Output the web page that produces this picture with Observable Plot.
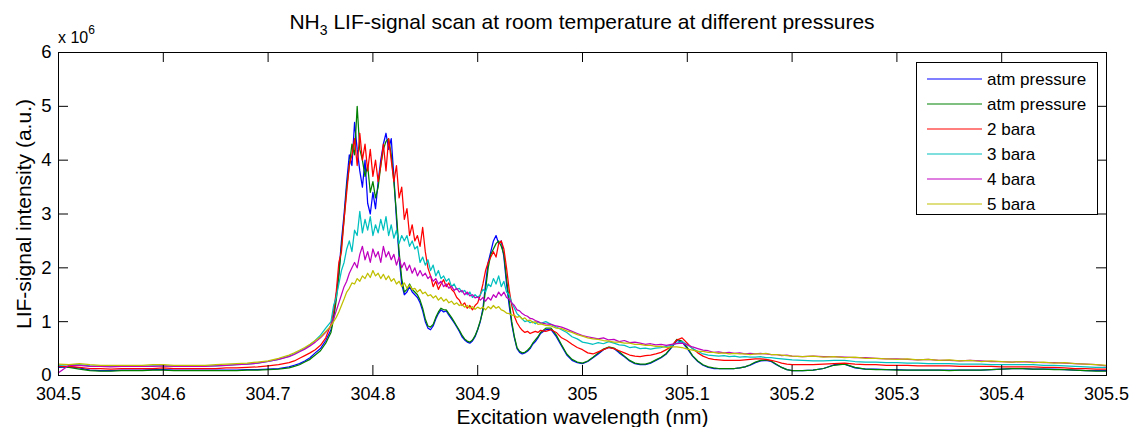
<!DOCTYPE html>
<html><head><meta charset="utf-8">
<script src="https://cdn.jsdelivr.net/npm/d3@7"></script>
<script src="https://cdn.jsdelivr.net/npm/@observablehq/plot@0.6"></script>
<style>
body{margin:0;background:#fff;}
#chart svg{font-family:"Liberation Sans",Arial,sans-serif;}
</style></head><body><div id="chart"></div>
<script>
// ---- sampling grid (nm): coarse on the baseline, fine across the band ----
const wlSegA = d3.range(23).map(i => 304.50 + i * 0.01);    // 304.50 .. 304.72
const wlSegB = d3.range(7).map(i => 304.725 + i * 0.005);   // 304.725 .. 304.755
const wlSegC = d3.range(81).map(i => 304.76 + i * 0.0025);  // 304.76 .. 304.96
const wlSegD = d3.range(48).map(i => 304.965 + i * 0.005);  // 304.965 .. 305.20
const wlSegE = d3.range(30).map(i => 305.21 + i * 0.01);    // 305.21 .. 305.50
const wavelength = [...wlSegA, ...wlSegB, ...wlSegC, ...wlSegD, ...wlSegE];

// ---- series values (x 10^6, a.u.) ----
const atm1 = [
0.15,0.16,0.14,0.10,0.09,0.09,0.10,0.10,0.10,0.11,0.11,0.10,0.10,0.10,0.10,0.10,0.10,0.10,0.11,0.11,0.12,0.13,0.16,
0.19,0.22,0.27,0.33,0.42,0.50,0.65,
0.85,1.1,1.5,1.9,2.5,3.0,3.6,4.1,3.9,4.7,
4.2,3.8,3.5,4.0,3.2,3.0,3.4,3.1,3.6,4.0,
4.3,4.5,4.2,4.4,3.7,2.9,2.2,1.7,1.5,1.55,
1.65,1.55,1.5,1.45,1.35,1.2,1.0,0.88,0.85,0.92,
1.05,1.15,1.22,1.18,1.2,1.12,1.05,0.98,0.9,0.82,
0.72,0.66,0.62,0.6,0.64,0.72,0.85,1.0,1.25,1.7,
2.1,2.3,2.5,2.6,2.45,2.5,2.2,1.7,1.3,0.95,
0.7,0.5,0.43,0.4,0.42,0.45,0.5,0.58,0.63,0.7,
0.78,
0.85,0.85,0.72,0.55,0.38,0.28,0.24,0.22,0.26,0.33,0.40,0.48,0.52,0.50,0.42,0.35,0.27,0.22,0.20,0.20,
0.23,0.28,0.33,0.40,0.52,0.65,0.62,0.50,0.36,0.26,0.19,0.15,0.13,0.13,0.13,0.13,0.13,0.14,0.16,0.19,
0.24,0.27,0.28,0.26,0.20,0.15,0.11,0.09,
0.09,0.10,0.13,0.20,0.21,0.14,0.12,0.12,0.11,0.11,0.10,0.10,0.10,0.10,0.10,0.10,0.10,0.10,0.11,0.12,
0.13,0.13,0.12,0.12,0.12,0.11,0.10,0.09,0.09,0.09];

const atm2 = [
0.17,0.15,0.12,0.09,0.08,0.08,0.09,0.09,0.09,0.10,0.10,0.09,0.09,0.09,0.09,0.09,0.09,0.09,0.10,0.10,0.11,0.12,0.14,
0.17,0.20,0.25,0.30,0.38,0.46,0.60,
0.8,1.05,1.4,1.85,2.4,2.9,3.5,3.9,4.3,4.1,
5.0,4.2,4.0,3.7,3.9,3.4,3.6,3.3,3.5,3.9,
4.2,4.35,4.4,4.1,3.6,3.0,2.3,1.8,1.55,1.6,
1.7,1.6,1.55,1.5,1.4,1.25,1.05,0.92,0.9,0.95,
1.08,1.18,1.25,1.22,1.22,1.15,1.08,1.0,0.92,0.84,
0.75,0.68,0.64,0.62,0.66,0.74,0.86,1.02,1.2,1.6,
2.0,2.25,2.35,2.45,2.5,2.4,2.25,1.8,1.4,1.0,
0.72,0.52,0.45,0.42,0.43,0.47,0.52,0.6,0.66,0.72,
0.8,
0.88,0.88,0.75,0.57,0.40,0.30,0.25,0.23,0.27,0.34,0.42,0.49,0.53,0.51,0.44,0.36,0.28,0.23,0.21,0.21,
0.24,0.29,0.34,0.41,0.53,0.67,0.64,0.52,0.37,0.27,0.20,0.16,0.14,0.13,0.13,0.13,0.13,0.14,0.16,0.20,
0.25,0.28,0.29,0.27,0.21,0.15,0.11,0.09,
0.09,0.10,0.13,0.19,0.21,0.15,0.12,0.11,0.11,0.10,0.10,0.10,0.10,0.10,0.09,0.10,0.10,0.10,0.11,0.12,
0.13,0.13,0.12,0.12,0.11,0.11,0.10,0.09,0.08,0.08];

const bar2 = [
0.17,0.17,0.15,0.13,0.13,0.12,0.13,0.13,0.13,0.13,0.14,0.13,0.13,0.13,0.13,0.13,0.14,0.14,0.15,0.16,0.18,0.20,0.24,
0.27,0.32,0.37,0.42,0.48,0.56,0.70,
0.95,1.2,1.55,2.1,2.3,2.9,3.4,3.9,4.1,4.4,
3.9,4.5,4.0,4.3,3.8,4.2,3.7,4.0,3.6,3.9,
4.3,3.8,4.4,4.0,3.6,3.9,3.3,3.5,2.9,3.1,
2.6,2.8,2.5,2.6,2.4,2.75,2.3,2.0,1.85,1.65,
1.75,1.6,1.7,1.78,1.65,1.72,1.6,1.55,1.45,1.4,
1.3,1.35,1.25,1.3,1.22,1.3,1.35,1.5,1.7,1.95,
2.1,2.2,2.3,2.2,2.45,2.5,2.35,2.0,1.6,1.3,
1.1,0.98,0.9,0.84,0.8,0.82,0.78,0.8,0.82,0.8,
0.84,
0.82,0.85,0.80,0.70,0.65,0.58,0.52,0.48,0.42,0.40,0.44,0.48,0.52,0.50,0.46,0.42,0.38,0.36,0.35,0.37,
0.38,0.40,0.43,0.48,0.55,0.66,0.70,0.60,0.50,0.42,0.36,0.32,0.30,0.29,0.28,0.28,0.28,0.28,0.29,0.30,
0.31,0.31,0.30,0.28,0.26,0.23,0.21,0.20,
0.20,0.20,0.21,0.22,0.23,0.21,0.20,0.20,0.19,0.19,0.19,0.18,0.18,0.18,0.18,0.17,0.17,0.17,0.17,0.16,
0.16,0.16,0.16,0.15,0.15,0.14,0.13,0.13,0.12,0.12];

const bar3 = [
0.19,0.20,0.20,0.18,0.17,0.17,0.17,0.17,0.17,0.18,0.18,0.17,0.17,0.17,0.18,0.18,0.19,0.20,0.21,0.23,0.26,0.30,0.36,
0.40,0.45,0.50,0.57,0.65,0.75,0.88,
1.0,1.3,1.45,1.7,1.95,2.1,2.35,2.5,2.3,2.7,
2.6,3.05,2.65,2.9,2.7,2.95,2.6,2.8,2.65,2.9,
2.7,2.95,2.6,2.8,2.55,2.7,2.45,2.6,2.5,2.6,
2.4,2.5,2.35,2.4,2.1,2.2,2.05,2.15,1.95,2.05,
1.85,1.95,1.8,1.85,1.75,1.8,1.65,1.7,1.6,1.62,
1.55,1.58,1.5,1.55,1.45,1.5,1.45,1.5,1.6,1.55,
1.7,1.65,1.8,1.7,1.85,1.65,1.75,1.55,1.5,1.35,
1.25,1.15,1.1,1.05,1.0,1.02,0.98,1.0,0.96,1.0,
0.97,
1.00,0.95,0.90,0.85,0.80,0.72,0.68,0.62,0.60,0.58,0.61,0.59,0.63,0.60,0.57,0.56,0.52,0.53,0.50,0.51,
0.49,0.51,0.52,0.54,0.56,0.60,0.63,0.57,0.50,0.45,0.40,0.38,0.37,0.36,0.37,0.35,0.36,0.34,0.35,0.34,
0.34,0.35,0.33,0.33,0.32,0.31,0.30,0.29,
0.28,0.27,0.27,0.28,0.28,0.26,0.25,0.25,0.24,0.24,0.23,0.23,0.22,0.22,0.22,0.21,0.21,0.21,0.20,0.20,
0.20,0.20,0.20,0.19,0.19,0.18,0.17,0.16,0.15,0.15];

const bar4 = [
0.05,0.19,0.19,0.17,0.17,0.16,0.17,0.17,0.17,0.17,0.18,0.17,0.17,0.17,0.17,0.18,0.19,0.20,0.21,0.23,0.26,0.30,0.35,
0.39,0.44,0.49,0.55,0.62,0.70,0.80,
0.92,1.05,1.2,1.35,1.5,1.65,1.75,1.9,2.0,2.1,
2.0,2.25,2.4,2.15,2.3,2.1,2.35,2.2,2.3,2.1,
2.4,2.2,2.3,2.15,2.25,2.05,2.2,2.0,2.1,1.95,
2.05,1.9,2.0,1.85,1.95,1.85,1.9,1.8,1.85,1.75,
1.8,1.7,1.75,1.65,1.7,1.62,1.66,1.58,1.62,1.55,
1.58,1.5,1.55,1.48,1.5,1.44,1.46,1.4,1.45,1.38,
1.45,1.4,1.5,1.45,1.55,1.48,1.55,1.45,1.42,1.35,
1.3,1.22,1.2,1.15,1.12,1.1,1.06,1.05,1.02,1.0,
0.98,
0.96,0.95,0.92,0.90,0.86,0.82,0.78,0.74,0.72,0.70,0.68,0.70,0.66,0.67,0.63,0.65,0.61,0.62,0.60,0.58,
0.59,0.57,0.58,0.56,0.58,0.59,0.60,0.57,0.53,0.50,0.47,0.46,0.43,0.44,0.42,0.43,0.41,0.42,0.40,0.41,
0.40,0.41,0.40,0.39,0.39,0.37,0.38,0.36,
0.35,0.36,0.35,0.35,0.34,0.33,0.33,0.32,0.31,0.31,0.30,0.29,0.30,0.28,0.28,0.27,0.28,0.27,0.26,0.26,
0.25,0.26,0.25,0.24,0.24,0.23,0.22,0.21,0.20,0.18];

const bar5 = [
0.21,0.20,0.22,0.20,0.19,0.19,0.19,0.19,0.19,0.20,0.20,0.19,0.19,0.19,0.19,0.20,0.21,0.22,0.23,0.25,0.27,0.32,0.38,
0.42,0.47,0.52,0.58,0.65,0.72,0.82,
0.92,1.0,1.08,1.18,1.3,1.42,1.55,1.62,1.72,1.7,
1.8,1.75,1.85,1.8,1.9,1.82,1.95,1.85,1.9,1.8,
1.88,1.78,1.85,1.75,1.8,1.7,1.75,1.65,1.72,1.62,
1.68,1.6,1.62,1.55,1.6,1.52,1.55,1.48,1.5,1.44,
1.48,1.4,1.45,1.38,1.42,1.35,1.38,1.32,1.35,1.3,
1.32,1.27,1.3,1.25,1.28,1.23,1.27,1.24,1.27,1.22,
1.28,1.24,1.3,1.25,1.28,1.22,1.2,1.16,1.15,1.12,
1.12,1.08,1.1,1.05,1.07,1.02,1.03,0.98,1.0,0.95,
0.96,
0.93,0.92,0.88,0.87,0.83,0.80,0.76,0.73,0.70,0.68,0.67,0.65,0.64,0.62,0.62,0.60,0.60,0.58,0.58,0.56,
0.56,0.54,0.54,0.52,0.53,0.53,0.52,0.49,0.47,0.45,0.45,0.43,0.43,0.41,0.42,0.40,0.41,0.40,0.40,0.39,
0.40,0.40,0.41,0.39,0.39,0.38,0.37,0.36,
0.35,0.36,0.34,0.35,0.33,0.34,0.32,0.32,0.31,0.30,0.31,0.29,0.30,0.28,0.29,0.27,0.28,0.26,0.27,0.26,
0.25,0.26,0.24,0.25,0.23,0.24,0.22,0.21,0.20,0.19];

const seriesNames  = ["atm pressure", "atm pressure", "2 bara", "3 bara", "4 bara", "5 bara"];
const seriesValues = [atm1, atm2, bar2, bar3, bar4, bar5];
const seriesColors = ["#0000ff", "#008000", "#ff0000", "#00bfbf", "#bf00bf", "#bfbf00"];

const xTicks = [304.5, 304.6, 304.7, 304.8, 304.9, 305.0, 305.1, 305.2, 305.3, 305.4, 305.5];
const yTicks = [0, 1, 2, 3, 4, 5, 6];

const titleMain = "NH";
const titleSub = "3";
const titleRest = " LIF-signal scan at room temperature at different pressures";
const xLabel = "Excitation wavelength (nm)";
const yLabel = "LIF-signal intensity (a.u.)";

// ---- layout ----
const W = 1130, H = 427, mL = 58, mR = 24, mT = 52, mB = 52;
const plotW = W - mL - mR, plotH = H - mT - mB, tickLen = 10;

const rows = vals => wavelength.map((x, i) => ({x, y: vals[i]})).filter(d => d.y != null);

const chart = Plot.plot({
  width: W, height: H,
  marginLeft: mL, marginRight: mR, marginTop: mT, marginBottom: mB,
  style: {fontFamily: "Liberation Sans, Arial, sans-serif", fontSize: "18px", background: "#fff", color: "#000", overflow: "visible"},
  x: {domain: [304.5, 305.5]},
  y: {domain: [0, 6]},
  marks: [
    ...seriesValues.map((v, i) => Plot.line(rows(v), {x: "x", y: "y", stroke: seriesColors[i], strokeWidth: 1.25})),
    Plot.frame({stroke: "#000", strokeWidth: 1}),
    Plot.ruleX(xTicks, {x: d => d, insetTop: plotH - tickLen, stroke: "#000"}),
    Plot.ruleX(xTicks, {x: d => d, insetBottom: plotH - tickLen, stroke: "#000"}),
    Plot.ruleY(yTicks, {y: d => d, insetRight: plotW - tickLen, stroke: "#000"}),
    Plot.ruleY(yTicks, {y: d => d, insetLeft: plotW - tickLen, stroke: "#000"}),
    Plot.axisX(xTicks, {tickSize: 0, tickPadding: 12, tickFormat: d => String(Math.round(d * 10) / 10), label: null, fontSize: 18}),
    Plot.axisY(yTicks, {tickSize: 0, tickPadding: 7, tickFormat: d => String(d), label: null, fontSize: 18.5}),
    Plot.text([xLabel], {frameAnchor: "bottom", dy: 48, text: d => d, fontSize: 21, textAnchor: "middle"}),
    Plot.text([yLabel], {frameAnchor: "left", rotate: -90, dx: -34, text: d => d, fontSize: 21, textAnchor: "middle"})
  ]
});
document.getElementById("chart").appendChild(chart);

const svg = d3.select(chart);
// title with subscript
const t = svg.append("text").attr("x", mL + plotW / 2).attr("y", 29).attr("text-anchor", "middle")
  .attr("font-size", 21).attr("fill", "#000");
t.append("tspan").text(titleMain);
t.append("tspan").attr("font-size", 14).attr("dy", 6).text(titleSub);
t.append("tspan").attr("dy", -6).text(titleRest);
// exponent multiplier
const m = svg.append("text").attr("x", mL).attr("y", 43).attr("font-size", 16)
  .attr("text-anchor", "start").attr("fill", "#000");
m.append("tspan").text("x 10");
m.append("tspan").attr("font-size", 12).attr("dy", -9).text("6");
// legend
const lg = svg.append("g");
lg.append("rect").attr("x", 916.5).attr("y", 62.5).attr("width", 181).attr("height", 152)
  .attr("fill", "#fff").attr("stroke", "#000");
seriesNames.forEach((name, i) => {
  const y = 79 + i * 25;
  lg.append("line").attr("x1", 927).attr("x2", 982).attr("y1", y).attr("y2", y)
    .attr("stroke", seriesColors[i]).attr("stroke-width", 1.2);
  lg.append("text").attr("x", 987).attr("y", y).attr("dy", "0.35em").attr("font-size", 17)
    .attr("text-anchor", "start").attr("fill", "#000").text(name);
});
</script></body></html>
